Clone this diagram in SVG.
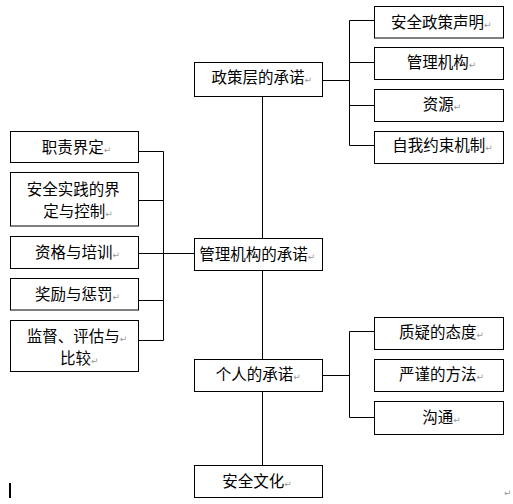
<svg xmlns="http://www.w3.org/2000/svg" width="513" height="504" viewBox="0 0 513 504">
<style>
.box{fill:#fff;stroke:#000;stroke-width:1}
.ln{fill:none;stroke:#000;stroke-width:1}
text{font-family:"Noto Sans CJK SC","Noto Sans CJK JP",sans-serif;font-size:15.5px;fill:#000}
.pm{font-family:"DejaVu Sans",sans-serif;font-size:9px;fill:#999}
</style>
<rect width="513" height="504" fill="#fff"/>
<g id="connectors">
<path class="ln" d="M322.5 80.5H349.5M349.5 20.5V145.5M349.5 20.5H374.5M349.5 62.5H374.5M349.5 105.5H374.5M349.5 145.5H374.5"/>
<path class="ln" d="M262.5 96.5V238.5M262.5 270.5V359.5M262.5 391.5V465.5"/>
<path class="ln" d="M163.5 151.5V340.5M138.5 151.5H163.5M138.5 200.5H163.5M138.5 253.5H194.5M138.5 300.5H163.5M138.5 340.5H163.5"/>
<path class="ln" d="M322.5 375.5H349.5M349.5 331.5V417.5M349.5 331.5H374.5M349.5 417.5H374.5"/>
</g>
<g id="n_policy"><rect class="box" x="194.5" y="62.5" width="128" height="34"/><text x="211.5" y="83.4">政策层的承诺<tspan class="pm">↵</tspan></text></g>
<g id="n_p1"><rect class="box" x="374.5" y="6.5" width="129" height="31.5"/><text x="391" y="28.4">安全政策声明<tspan class="pm">↵</tspan></text></g>
<g id="n_p2"><rect class="box" x="374.5" y="47.5" width="129" height="32"/><text x="406.7" y="68.4">管理机构<tspan class="pm">↵</tspan></text></g>
<g id="n_p3"><rect class="box" x="374.5" y="89.5" width="129" height="32"/><text x="422.7" y="110">资源<tspan class="pm">↵</tspan></text></g>
<g id="n_p4"><rect class="box" x="374.5" y="131.5" width="129" height="32"/><text x="392.3" y="151.4">自我约束机制<tspan class="pm">↵</tspan></text></g>
<g id="n_mgmt"><rect class="box" x="194.5" y="238.5" width="128" height="32"/><text x="199.3" y="260">管理机构的承诺<tspan class="pm">↵</tspan></text></g>
<g id="n_m1"><rect class="box" x="10.5" y="131.5" width="128" height="31"/><text x="41.7" y="152.6">职责界定<tspan class="pm">↵</tspan></text></g>
<g id="n_m2"><rect class="box" x="10.5" y="172.5" width="128" height="53.5"/><text x="26.7" y="194.6">安全实践的界<tspan x="43.3" y="217.1">定与控制</tspan><tspan class="pm">↵</tspan></text></g>
<g id="n_m3"><rect class="box" x="10.5" y="236.5" width="128" height="32"/><text x="35" y="258.4">资格与培训<tspan class="pm">↵</tspan></text></g>
<g id="n_m4"><rect class="box" x="10.5" y="278.5" width="128" height="31.5"/><text x="35" y="300">奖励与惩罚<tspan class="pm">↵</tspan></text></g>
<g id="n_m5"><rect class="box" x="10.5" y="320.5" width="128" height="51"/><text x="26.7" y="341.8">监督、评估与<tspan class="pm">↵</tspan><tspan x="60" y="364.3">比较</tspan><tspan class="pm">↵</tspan></text></g>
<g id="n_ind"><rect class="box" x="194.5" y="359.5" width="128" height="32"/><text x="215.7" y="380">个人的承诺<tspan class="pm">↵</tspan></text></g>
<g id="n_i1"><rect class="box" x="374.5" y="317.5" width="129" height="32"/><text x="399" y="338.4">质疑的态度<tspan class="pm">↵</tspan></text></g>
<g id="n_i2"><rect class="box" x="374.5" y="359.5" width="129" height="32"/><text x="399" y="380">严谨的方法<tspan class="pm">↵</tspan></text></g>
<g id="n_i3"><rect class="box" x="374.5" y="401.5" width="129" height="33"/><text x="422.3" y="423.4">沟通<tspan class="pm">↵</tspan></text></g>
<g id="n_culture"><rect class="box" x="194.5" y="465.5" width="128" height="32"/><text x="222.3" y="486.8">安全文化<tspan class="pm">↵</tspan></text></g>
<rect x="9" y="483" width="2" height="15" fill="#000"/>
<text class="pm" x="504" y="496">↵</text>
</svg>
